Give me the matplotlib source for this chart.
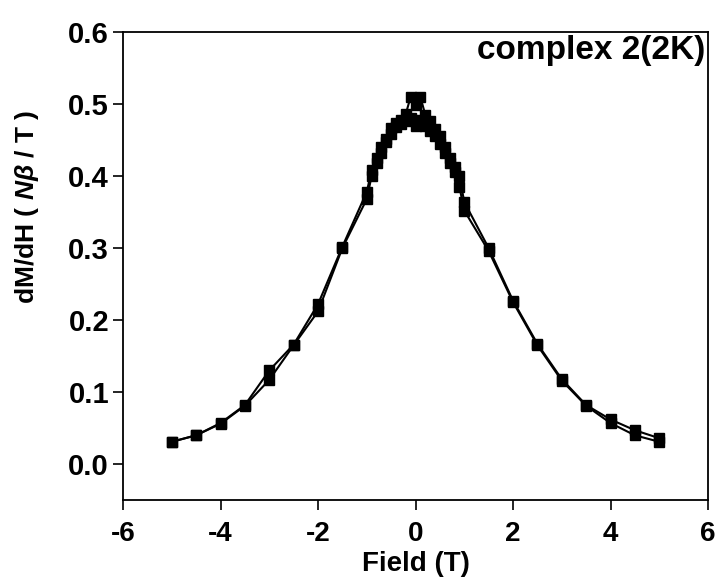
import numpy as np
import matplotlib
matplotlib.use("Agg")
import matplotlib.pyplot as plt

plt.rcParams['font.family'] = ['Liberation Sans', 'DejaVu Sans']
plt.rcParams['axes.unicode_minus'] = False
plt.rcParams['mathtext.fontset'] = 'custom'
plt.rcParams['mathtext.it'] = 'Liberation Sans:italic:bold'
plt.rcParams['mathtext.rm'] = 'Liberation Sans:bold'

# field values (T)
field = [-5, -4.5, -4, -3.5, -3, -2.5, -2, -1.5,
         -1, -0.9, -0.8, -0.7, -0.6, -0.5, -0.4, -0.3, -0.2, -0.1,
         0, 0.1, 0.2, 0.3, 0.4, 0.5, 0.6, 0.7, 0.8, 0.9, 1,
         1.5, 2, 2.5, 3, 3.5, 4, 4.5, 5]

# dM/dH, first sweep
dmdh_1 = [0.031, 0.040, 0.057, 0.082, 0.130, 0.166, 0.222, 0.302,
          0.378, 0.408, 0.425, 0.440, 0.452, 0.466, 0.474, 0.478, 0.486, 0.510,
          0.498, 0.510, 0.485, 0.476, 0.465, 0.455, 0.440, 0.425, 0.412, 0.400, 0.364,
          0.300, 0.227, 0.167, 0.118, 0.082, 0.062, 0.047, 0.036]

# dM/dH, second sweep
dmdh_2 = [0.031, 0.040, 0.056, 0.081, 0.117, 0.165, 0.212, 0.300,
          0.368, 0.400, 0.418, 0.432, 0.447, 0.458, 0.468, 0.472, 0.476, 0.480,
          0.470, 0.478, 0.470, 0.462, 0.455, 0.445, 0.432, 0.418, 0.405, 0.385, 0.352,
          0.296, 0.225, 0.165, 0.116, 0.081, 0.057, 0.040, 0.031]

fig = plt.figure(figsize=(7.21, 5.87), dpi=100)
ax = fig.add_axes([0.1706, 0.148, 0.8114, 0.7975])

for y in (dmdh_1, dmdh_2):
    ax.plot(field, y, '-s', color='black', lw=1.5, ms=7, mfc='black', mec='black')

ax.set_xlim(-6, 6)
ax.set_ylim(-0.05, 0.6)
ax.set_xticks([-6, -4, -2, 0, 2, 4, 6])
ax.set_yticks([0.0, 0.1, 0.2, 0.3, 0.4, 0.5, 0.6])
ax.set_yticklabels(['0.0', '0.1', '0.2', '0.3', '0.4', '0.5', '0.6'])

for s in ax.spines.values():
    s.set_linewidth(1.3)
ax.tick_params(direction='out', length=7, width=1.2)
ax.tick_params(axis='y', labelsize=21, pad=3)
ax.tick_params(axis='x', labelsize=20, pad=8)
for lab in ax.get_xticklabels() + ax.get_yticklabels():
    lab.set_fontweight('bold')

ax.set_xlabel('Field (T)', fontsize=20, fontweight='bold')
ax.xaxis.set_label_coords(0.5, -0.108)
ax.set_ylabel(r'dM/dH ( $N\beta$ / T )', fontsize=19, fontweight='bold')
ax.yaxis.set_label_coords(-0.14, 0.626)

ax.text(0.995, 0.96, 'complex 2(2K)', transform=ax.transAxes, ha='right', va='center',
        fontsize=24, fontweight='bold')

fig.savefig('out.png', dpi=100)
